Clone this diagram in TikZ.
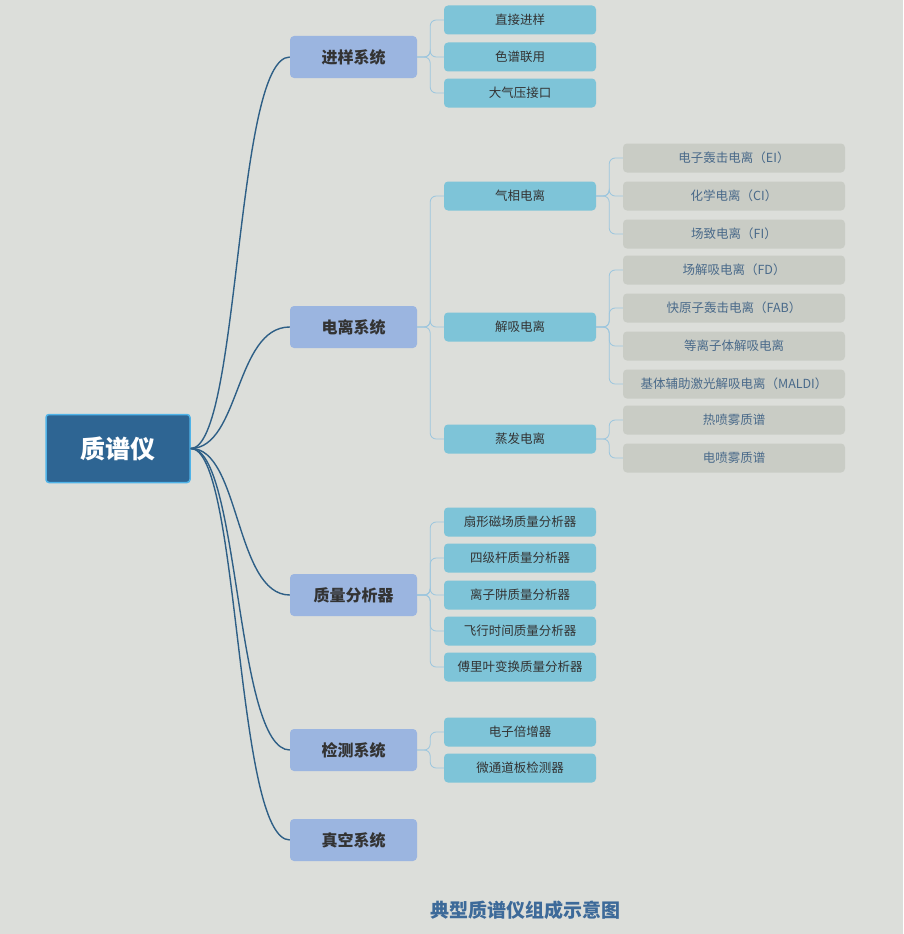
\documentclass[tikz,border=0pt]{standalone}
\usepackage{fontspec}
\setmainfont{Noto Sans CJK SC}
\definecolor{bg}{HTML}{DCDEDA}
\definecolor{rootc}{HTML}{2E6593}
\definecolor{rootb}{HTML}{4FB3E8}
\definecolor{lone}{HTML}{9BB5E0}
\definecolor{ltwo}{HTML}{7EC4D8}
\definecolor{lthree}{HTML}{C9CCC5}
\definecolor{tthree}{HTML}{4A6A8A}
\definecolor{linkd}{HTML}{2E5F86}
\definecolor{linkl}{HTML}{9CC6DE}
\definecolor{titlec}{HTML}{3D6A99}
\begin{document}
\begin{tikzpicture}[x=1pt,y=-1pt,
 rootbox/.style={draw=rootb,line width=1.5pt,fill=rootc,rounded corners=3pt,minimum width=144pt,minimum height=68pt,text=white,font=\bfseries\fontsize{25}{28}\selectfont},
 onebox/.style={fill=lone,rounded corners=4pt,minimum width=127pt,minimum height=42pt,text=black!80,font=\bfseries\fontsize{16}{19}\selectfont},
 twobox/.style={fill=ltwo,rounded corners=4pt,minimum width=152pt,minimum height=29pt,text=black!80,font=\fontsize{12.5}{15}\selectfont},
 threebox/.style={fill=lthree,rounded corners=4pt,minimum width=222pt,minimum height=29pt,text=tthree,font=\fontsize{12.5}{15}\selectfont},
 dlink/.style={draw=linkd,line width=1.4pt},
 llink/.style={draw=linkl,line width=0.8pt,rounded corners=6pt}]
\fill[bg] (0,0) rectangle (903,934);
\useasboundingbox (0,0) rectangle (903,934);
\node[rootbox] (r) at (118,448.5) {质谱仪};
\foreach \n/\y/\t in {a/57/进样系统,b/327/电离系统,c/595/质量分析器,d/750/检测系统,e/840/真空系统}{
 \node[onebox] (\n) at (353.5,\y) {\t};
 \draw[dlink] (r.east) .. controls (240,448) and (235,\y) .. (\n.west);
}
\foreach \n/\p/\y/\t in {a1/a/20/直接进样,a2/a/57/色谱联用,a3/a/93/大气压接口,
 b1/b/196/气相电离,b2/b/327/解吸电离,b3/b/439/蒸发电离,
 c1/c/522/扇形磁场质量分析器,c2/c/558/四级杆质量分析器,c3/c/595/离子阱质量分析器,c4/c/631/飞行时间质量分析器,c5/c/667/傅里叶变换质量分析器,
 d1/d/732/电子倍增器,d2/d/768/微通道板检测器}{
 \node[twobox] (\n) at (520,\y) {\t};
 \draw[llink] (\p.east) -- ++(13,0) |- (\n.west);
}
\foreach \n/\p/\y/\t in {e1/b1/158/电子轰击电离（EI）,e2/b1/196/化学电离（CI）,e3/b1/234/场致电离（FI）,
 f1/b2/270/场解吸电离（FD）,f2/b2/308/快原子轰击电离（FAB）,f3/b2/346/等离子体解吸电离,f4/b2/384/基体辅助激光解吸电离（MALDI）,
 g1/b3/420/热喷雾质谱,g2/b3/458/电喷雾质谱}{
 \node[threebox] (\n) at (734,\y) {\t};
 \draw[llink] (\p.east) -- ++(13,0) |- (\n.west);
}
\node[text=titlec,font=\bfseries\fontsize{19}{22}\selectfont] (t) at (525,910) {典型质谱仪组成示意图};
\end{tikzpicture}
\end{document}
